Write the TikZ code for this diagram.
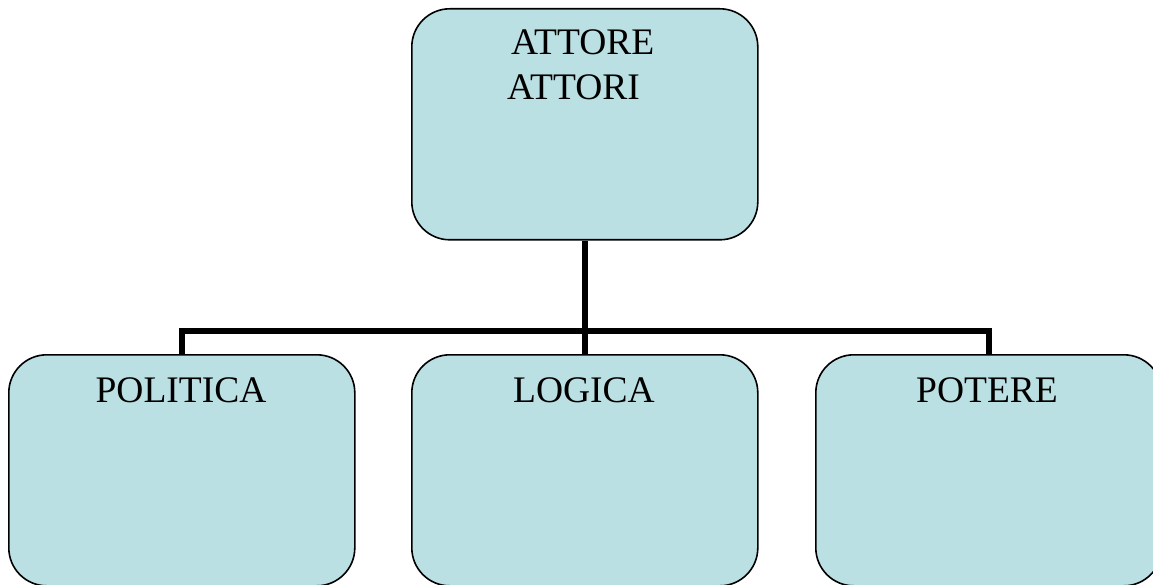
\documentclass[tikz,border=0pt]{standalone}
\usepackage{fontspec}
\setmainfont{Liberation Serif}
\definecolor{boxfill}{HTML}{BBE0E3}
\begin{document}
\begin{tikzpicture}[x=1pt,y=-1pt,
  box/.style={draw=black, line width=1.6pt, fill=boxfill, rounded corners=38pt,
    minimum width=346pt, minimum height=231pt, inner sep=0pt, anchor=north west},
  lbl/.style={anchor=base, font=\fontsize{37.5}{44}\selectfont, inner sep=0pt},
  conn/.style={line width=5.5pt, draw=black}]
\useasboundingbox (0,0) rectangle (1153,585);
\coordinate (bus) at (584,331);
\node[box] (top) at (411,8) {};
\node[box] (left) at (8,354) {};
\node[box] (mid) at (411,354) {};
\node[box] (right) at (815,354) {};
\draw[conn] (top.south) -- (mid.north);
\draw[conn] (left.north) |- (bus) -| (right.north);
\node[lbl, anchor=base west] (t1) at (511,55) {ATTORE};
\node[lbl, anchor=base west] (t2) at (507,100) {ATTORI};
\node[lbl] (l1) at (181,402) {POLITICA};
\node[lbl] (l2) at (584,402) {LOGICA};
\node[lbl] (l3) at (987,402) {POTERE};
\end{tikzpicture}
\end{document}
